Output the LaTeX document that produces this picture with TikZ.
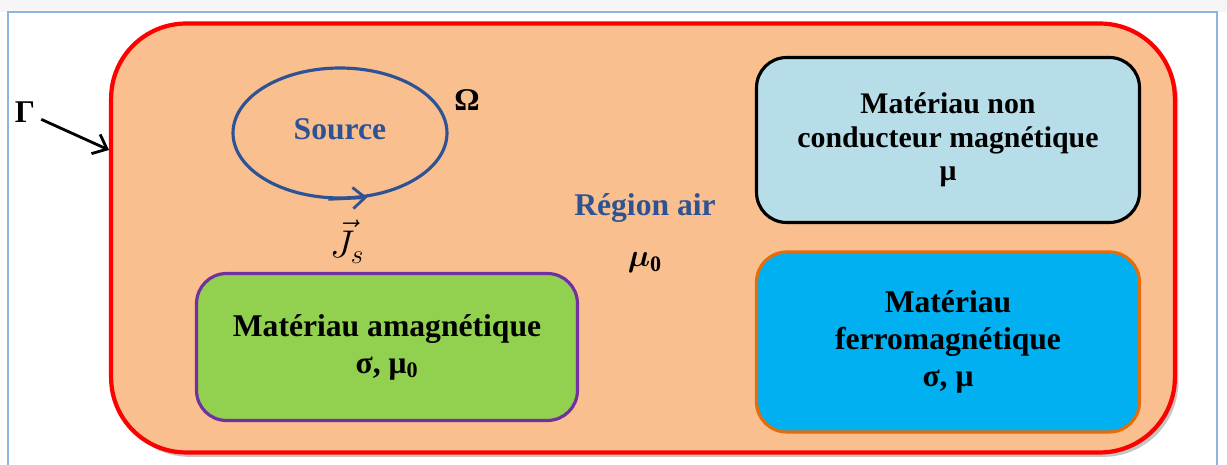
\RequirePackage{fix-cm}
\documentclass[tikz,border=0pt]{standalone}
\usepackage{fontspec}
\setmainfont{Liberation Serif}
\usepackage{bm}
\usetikzlibrary{shapes.geometric, arrows.meta, shadows, calc}
\definecolor{myred}{rgb}{1,0,0}
\definecolor{mypeach}{HTML}{F9BF8F}
\definecolor{mynavy}{HTML}{2E5395}
\definecolor{mylightblue}{HTML}{B7DDE8}
\definecolor{mycyan}{HTML}{00B0F0}
\definecolor{myorange}{HTML}{E46C0A}
\definecolor{mygreen}{HTML}{92D050}
\definecolor{mypurple}{HTML}{7030A0}
\definecolor{myframe}{HTML}{8EB4E3}
\newcommand{\TxtNonCond}{Matériau non\\conducteur magnétique\\μ}
\newcommand{\TxtFerro}{Matériau\\ferromagnétique\\σ, μ}
\newcommand{\TxtAmag}{Matériau amagnétique\\σ, μ\textsubscript{0}}

\begin{document}
\begin{tikzpicture}[x=0.02cm, y=-0.02cm, font=\fontsize{18}{21}\selectfont\bfseries,
  airbox/.style={rectangle, draw=myred, fill=mypeach, line width=2.4pt, rounded corners=1.5cm,
    drop shadow={opacity=0.45, shadow xshift=2pt, shadow yshift=-2.5pt}},
  matbox/.style={rectangle, rounded corners=0.6cm, line width=1.8pt, align=center, inner sep=0pt},
  srcline/.style={draw=mynavy, line width=1.8pt},
  tip/.style={-{Straight Barb[length=7pt, width=12pt, line width=1.6pt]}}]
  \useasboundingbox (0,0) rectangle (1227,465);
  \fill[gray!7] (0,0) rectangle (1227,12);
  \fill[white] (8,12) rectangle (1217,465);
  \draw[myframe, line width=1pt] (8,465) |- (1217,12) -- (1217,465);

  \node[airbox, minimum width=21.28cm, minimum height=8.58cm] (air) at (643,238) {};
  \coordinate (gtip) at ($(air.west)+(0,-88)$);

  \node[ellipse, srcline, minimum width=4.28cm, minimum height=2.6cm, inner sep=0pt,
    text=mynavy] (src) at (340,133) {\raisebox{4pt}{Source}};
  \draw[srcline, tip] (src.-100) -- (src.-67);

  \node (omega) at (467,100) {Ω};
  \node[font=\fontsize{22}{26}\selectfont, inner sep=0pt] (js) at (347,242) {$\vec{J}_s$};
  \node[text=mynavy] (region) at (645,208) {Région air};
  \node (mu0) at (645,263) {$\bm{\mu}_{\mathbf{0}}$};

  \node[matbox, draw=black, fill=mylightblue, minimum width=7.66cm, minimum height=3.3cm,
    font=\fontsize{17}{19}\selectfont\bfseries] (noncond) at (948,140) {\TxtNonCond};
  \node[matbox, draw=myorange, fill=mycyan, minimum width=7.66cm, minimum height=3.6cm]
    (ferro) at (948,342) {\TxtFerro};
  \node[matbox, draw=mypurple, fill=mygreen, minimum width=7.62cm, minimum height=2.94cm]
    (amag) at (387,347) {\TxtAmag};

  \node (gamma) at (25,112) {Γ};
  \draw[tip, line width=1.6pt] (gamma) -- (gtip);
\end{tikzpicture}
\end{document}
